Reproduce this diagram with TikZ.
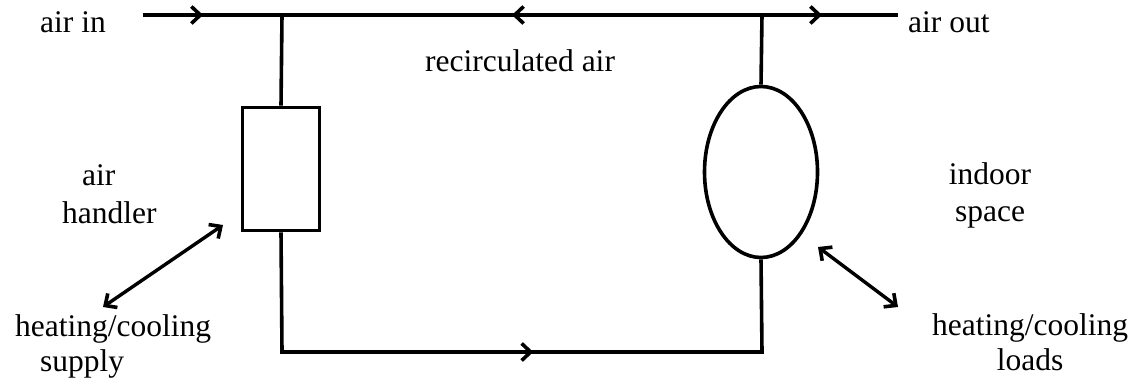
\documentclass[tikz,border=0pt]{standalone}
\usepackage{fontspec}
\setmainfont{Liberation Serif}
\usetikzlibrary{arrows.meta,decorations.markings,shapes.geometric}
\tikzset{
  pipe/.style={line width=3.6pt},
  barb/.tip={Straight Barb[length=9pt,width=17pt,line width=3.6pt]},
  fwd at/.style={postaction={decorate,decoration={markings,
      mark=at position #1 with {\arrow{barb}}}}},
  back at/.style={postaction={decorate,decoration={markings,
      mark=at position #1 with {\arrowreversed{barb}}}}},
  label/.style={font=\fontsize{31.5}{37}\selectfont, inner sep=0pt},
  exchange/.style={line width=3.4pt, {barb}-{barb}},
}
\begin{document}
\begin{tikzpicture}[x=1pt,y=1pt]
\useasboundingbox (0,0) rectangle (1131,383);

% main duct along the top
\coordinate (in) at (143,368);
\coordinate (out) at (898,368);
\coordinate (jl) at (282,368);
\coordinate (jr) at (762,368);
\coordinate (bl) at (282,31);
\coordinate (br) at (762,31);

% air handler and indoor space
\node[draw, pipe, minimum width=77pt, minimum height=123pt, inner sep=0pt] (ahu) at (281,214) {};
\node[draw, pipe, ellipse, minimum width=113pt, minimum height=171pt, inner sep=0pt] (room) at (761,211) {};

\draw[pipe, fwd at=60pt, back at=369pt, fwd at=679pt] (in) -- (out);
\draw[pipe] (jl) -- (ahu.north);
\draw[pipe] (jr) -- (room.north);
\draw[pipe, fwd at=371pt] (ahu.south) -- (bl) -- (br) -- (room.south);

% heat exchange with the surroundings
\coordinate (s1) at (223,158);
\coordinate (s2) at (103,76);
\coordinate (l1) at (818,136);
\coordinate (l2) at (898,76);
\draw[exchange] (s2) -- (s1);
\draw[exchange] (l1) -- (l2);

% labels (a multi-line node sits on the baseline of its last line)
\node[label, anchor=base west] (tin) at (40,350) {air in};
\node[label, anchor=base west] (tout) at (908,350) {air out};
\node[label, anchor=base west] (trec) at (425,311) {recirculated air};
\node[label, anchor=base west, align=left] (tahu) at (62,160) {\hspace*{20pt}air\\handler};
\node[label, anchor=base, align=center] (troom) at (990,161) {indoor\\space};
\node[label, anchor=base west, align=left, font=\fontsize{31.5}{35}\selectfont] (tsup) at (15,12) {heating/cooling\\\hspace*{25pt}supply};
\node[label, anchor=base, align=center, font=\fontsize{31.5}{35}\selectfont] (tload) at (1030,13) {heating/cooling\\loads};
\end{tikzpicture}
\end{document}
